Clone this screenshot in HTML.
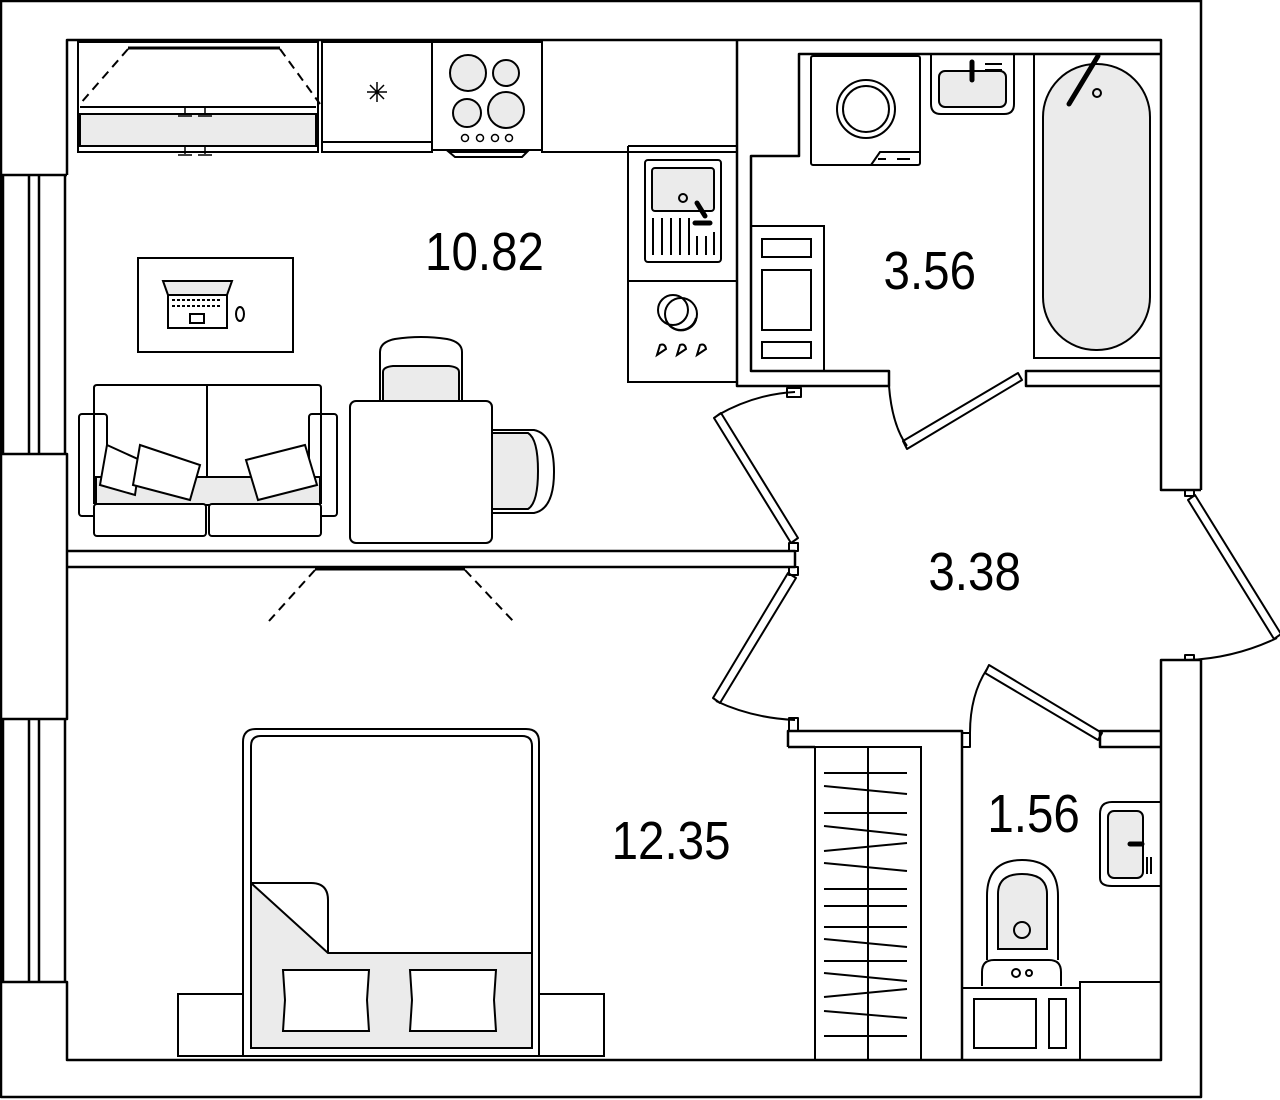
<!DOCTYPE html>
<html><head><meta charset="utf-8"><style>
html,body{margin:0;padding:0;background:#fff;width:1280px;height:1100px;overflow:hidden}
svg{display:block}
text{font-family:"Liberation Sans",sans-serif;font-size:54px;fill:#000}
</style></head><body>
<svg width="1280" height="1100" viewBox="0 0 1280 1100" xmlns="http://www.w3.org/2000/svg">
<g fill="none" stroke="#000" stroke-width="2.5" stroke-linejoin="round">
<!-- outer -->
<path d="M1201,0 V490"/>
<path d="M1201,660 V1097 H1 V0"/>
<line x1="0" y1="1" x2="1201" y2="1"/>
<!-- inner outline -->
<path d="M67,175 V40 H1161 V490 H1201"/>
<path d="M1201,660 H1161 V1060 H67 V982 H0"/>
<path d="M0,175 H67 M0,454 H67 V719 H0"/>
<!-- windows -->
<path d="M3,175V454 M29,175V454 M39,175V454 M65,175V454"/>
<path d="M3,719V982 M29,719V982 M39,719V982 M65,719V982"/>
<!-- partition -->
<path d="M67,551 H795 V567 H67"/>
<rect x="789" y="543" width="9" height="8" stroke-width="2"/>
<rect x="789" y="567" width="9" height="8" stroke-width="2"/>
<!-- kitchen/bath wall -->
<path d="M737,40 V386 H889 V371 H751 V156 H799 V54 H1161"/>
<path d="M1161,371 H1026 V386 H1161"/>
<rect x="787" y="388" width="14" height="9" stroke-width="2"/>
<!-- bedroom/wc walls -->
<path d="M788,747 V731 H962 V1060"/>
<path d="M788,747 H815"/>
<path d="M1161,731 H1100 V747 H1161"/>
<rect x="789" y="718" width="9" height="13" stroke-width="2"/>
<rect x="962" y="733" width="8" height="14" stroke-width="2"/>
<!-- doors -->
<path d="M889,386 Q892,425 907,446" stroke-width="2"/>
<path d="M903,441 L1018,373 L1022,380 L907,449 Z" stroke-width="2"/>
<path d="M718,415 Q755,394 795,392" stroke-width="2"/>
<path d="M714,418 L721,413 L798,538 L791,543 Z" stroke-width="2"/>
<path d="M716,701 Q752,718 795,720" stroke-width="2"/>
<path d="M713,698 L788,573 L796,578 L720,703 Z" stroke-width="2"/>
<path d="M970,733 Q970,695 987,669" stroke-width="2"/>
<path d="M985,673 L989,665 L1102,733 L1098,740 Z" stroke-width="2"/>
<path d="M1277,638 Q1235,658 1189,660" stroke-width="2"/>
<path d="M1188,500 L1195,495 L1281,634 L1274,639 Z" stroke-width="2"/>
<rect x="1185" y="490" width="9" height="6" stroke-width="2"/>
<rect x="1185" y="655" width="9" height="5" stroke-width="2"/>
</g>

<g fill="none" stroke="#000" stroke-width="2">
<!-- kitchen counters -->
<rect x="78" y="42" width="240" height="110"/>
<rect x="80" y="114" width="236" height="32" fill="#ebebeb"/>
<line x1="80" y1="107" x2="316" y2="107"/>
<path d="M185,107v7 M205,107v7 M178,116h14 M198,116h14 M185,146v8 M205,146v8 M178,155h14 M198,155h14" stroke-width="1.5"/>
<path d="M128,48 H280" stroke-width="3"/>
<path d="M128,49 L80,104 M280,49 L320,104" stroke-dasharray="9,6"/>
<rect x="322" y="42" width="110" height="110"/>
<line x1="322" y1="142" x2="432" y2="142"/>
<path d="M377,82v20 M367,92h20 M370,85l14,14 M384,85l-14,14" stroke-width="1.5"/>
<rect x="432" y="42" width="110" height="108"/>
<g fill="#ebebeb"><circle cx="468" cy="73" r="18"/><circle cx="506" cy="73" r="13"/><circle cx="467" cy="113" r="14"/><circle cx="506" cy="110" r="18"/></g>
<g stroke-width="1.5"><circle cx="465" cy="138" r="3.5"/><circle cx="480" cy="138" r="3.5"/><circle cx="495" cy="138" r="3.5"/><circle cx="509" cy="138" r="3.5"/></g>
<path d="M449,152 L455,157 H522 L527,152 Z"/>
<path d="M542,42 V152 H737"/>
<path d="M628,146 H737 M628,146 V382 H737"/>
<line x1="628" y1="281" x2="737" y2="281"/>
<rect x="645" y="160" width="76" height="102" rx="3"/>
<rect x="652" y="168" width="62" height="43" rx="3" fill="#ebebeb"/>
<circle cx="683" cy="198" r="4"/>
<path d="M697,203 l8,13 M695,223 h15" stroke-width="5" stroke-linecap="round"/>
<path d="M653,218v37 M662,218v37 M671,218v37 M680,218v37 M689,218v37 M697,236v19 M706,236v19 M714,232v23"/>
<circle cx="681" cy="314" r="16"/><path d="M666,320 a16,16 0 0,0 30,0 M680,330 a16,16 0 0,0 16,-12"/>
<circle cx="673" cy="310" r="15"/>
<path d="M657,355 l3,-10 q5,-2 6,4 z M677,355 l3,-10 q5,-2 6,4 z M697,355 l3,-10 q5,-2 6,4 z"/>
<!-- desk -->
<rect x="138" y="258" width="155" height="94"/>
<path d="M163,281 H232 L227,295 H168 Z" fill="#ebebeb"/>
<rect x="168" y="295" width="59" height="33"/>
<path d="M172,300h50 M172,306h50" stroke-dasharray="3,2"/>
<rect x="190" y="314" width="14" height="9"/>
<ellipse cx="240" cy="314" rx="4" ry="7"/>
<!-- sofa -->
<path d="M94,504 V388 q0,-3 3,-3 H318 q3,0 3,3 V504"/>
<line x1="207" y1="385" x2="207" y2="504"/>
<rect x="79" y="414" width="28" height="102" rx="3"/>
<rect x="309" y="414" width="28" height="102" rx="3"/>
<rect x="96" y="477" width="224" height="28" fill="#ebebeb"/>
<rect x="94" y="504" width="112" height="32" rx="3" fill="#fff"/>
<rect x="209" y="504" width="112" height="32" rx="3" fill="#fff"/>
<path d="M107,445 L140,460 L135,495 L100,485 Z" fill="#fff"/>
<path d="M140,445 L200,465 L190,500 L133,485 Z" fill="#fff"/>
<path d="M246,460 L305,445 L317,485 L258,500 Z" fill="#fff"/>
<!-- dining -->
<path d="M380,401 V352 q0,-10 15,-13 q26,-4 52,0 q15,3 15,13 V401 Z"/>
<path d="M383,401 V372 q0,-5 10,-6 h56 q10,1 10,6 V401 Z" fill="#ebebeb"/>
<path d="M492,430 H534 q20,4 20,42 q0,37 -20,41 H492 Z"/>
<path d="M492,433 H528 q10,6 10,38 q0,32 -10,38 H492 Z" fill="#ebebeb"/>
<rect x="350" y="401" width="142" height="142" rx="6" fill="#fff"/>
<!-- lamp -->
<path d="M315,569 H465" stroke-width="3"/>
<path d="M315,570 L269,621 M465,570 L513,621" stroke-dasharray="9,6"/>
<!-- bath -->
<rect x="811" y="56" width="109" height="109" rx="2"/>
<circle cx="866" cy="109" r="29"/><circle cx="866" cy="109" r="23"/>
<path d="M871,165 L880,152 H920"/><path d="M878,159h8 M897,159h13"/>
<path d="M931,54 V104 q0,10 10,10 H1004 q10,0 10,-10 V54"/>
<rect x="939" y="71" width="67" height="36" rx="6" fill="#ebebeb"/>
<path d="M972,62 v18" stroke-width="5" stroke-linecap="round"/>
<path d="M985,64h17 M985,70h17"/>
<rect x="1034" y="54" width="127" height="304"/>
<rect x="1043" y="64" width="107" height="286" rx="53" fill="#ebebeb"/>
<path d="M1069,104 L1098,56" stroke-width="5" stroke-linecap="round"/>
<circle cx="1097" cy="93" r="4"/>
<rect x="751" y="226" width="73" height="145"/>
<rect x="762" y="239" width="49" height="18"/>
<rect x="762" y="270" width="49" height="60"/>
<rect x="762" y="342" width="49" height="16"/>
<!-- bed -->
<rect x="178" y="994" width="65" height="62"/>
<rect x="539" y="994" width="65" height="62"/>
<path d="M243,1056 V742 q0,-13 13,-13 H526 q13,0 13,13 V1056 Z"/>
<path d="M251,1048 V746 q0,-10 10,-10 H522 q10,0 10,10 V1048 Z"/>
<path d="M251,883 L328,953 H532 V1048 H251 Z" fill="#ebebeb"/>
<path d="M251,883 H311 q17,0 17,17 V953"/>
<path d="M283,970 H369 L367,1000 L369,1031 H283 L285,1000 Z" fill="#fff"/>
<path d="M410,970 H496 L494,1000 L496,1031 H410 L412,1000 Z" fill="#fff"/>
<!-- closet -->
<rect x="815" y="747" width="106" height="313"/>
<line x1="868" y1="747" x2="868" y2="1060"/>
<path d="M824,773h83 M824,786l83,8 M824,813h83 M824,826l83,9 M824,851l83,-8 M824,863l83,8 M824,889h83 M824,906h83 M824,927h83 M824,939l83,8 M824,961h83 M824,973l83,8 M824,997l83,-8 M824,1011l83,7 M824,1036h83"/>
<!-- WC -->
<path d="M1100,878 V814 q0,-12 12,-12 H1161 V886 H1112 q-12,0 -12,-8 Z"/>
<rect x="1108" y="811" width="35" height="67" rx="6" fill="#ebebeb"/>
<path d="M1130,844 h12" stroke-width="5" stroke-linecap="round"/>
<path d="M1147,857v17 M1151,857v17"/>
<path d="M987,960 V896 q0,-36 35,-36 q36,0 36,36 V960"/>
<path d="M998,949 V894 q0,-20 24,-20 q25,0 25,20 V949 Z" fill="#ebebeb"/>
<circle cx="1022" cy="930" r="8"/>
<path d="M982,986 V972 q0,-12 12,-12 H1049 q12,0 12,12 V986"/>
<circle cx="1016" cy="973" r="4"/><circle cx="1029" cy="973" r="3"/>
<rect x="962" y="988" width="118" height="72"/>
<rect x="974" y="999" width="62" height="49"/>
<rect x="1049" y="999" width="17" height="49"/>
<rect x="1080" y="982" width="81" height="78"/>
</g>

<g transform="scale(0.88,1)">
<text x="483" y="270">10.82</text>
<text x="1004" y="289">3.56</text>
<text x="1055" y="590">3.38</text>
<text x="695" y="859">12.35</text>
<text x="1122" y="832">1.56</text>
</g>
</svg>
</body></html>
